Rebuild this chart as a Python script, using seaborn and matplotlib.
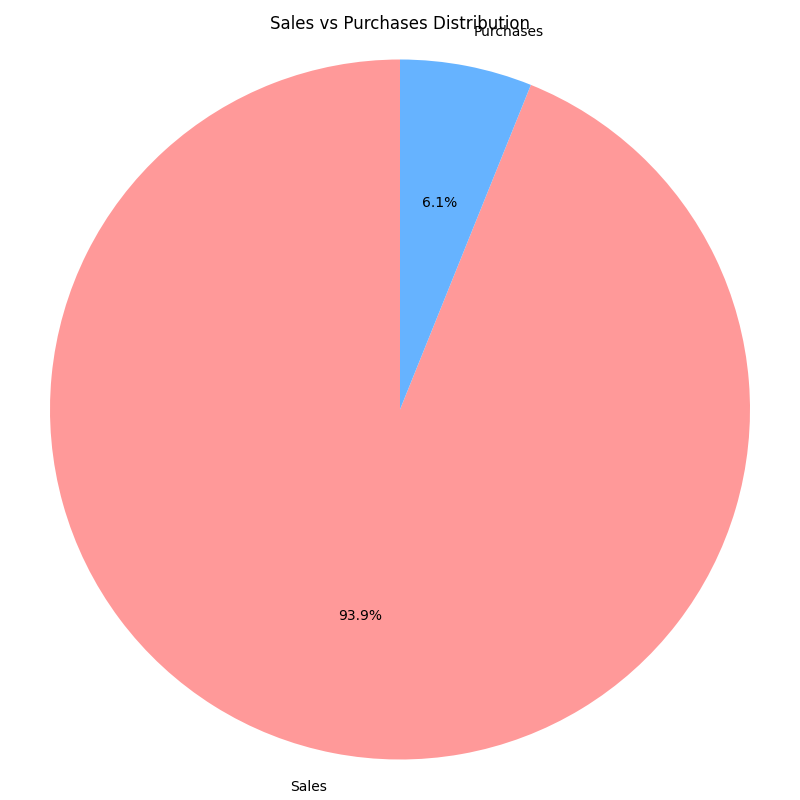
import matplotlib
matplotlib.use("Agg")
import matplotlib.pyplot as plt
import seaborn as sns

# ---- Data ---------------------------------------------------------------
labels = ["Sales", "Purchases"]
shares = [93.9, 6.1]
palette = sns.color_palette(["#ff9999", "#66b3ff"])

# ---- Chart --------------------------------------------------------------
fig, ax = plt.subplots(figsize=(8, 8), dpi=100)
ax.pie(shares, labels=labels, colors=palette, autopct="%1.1f%%", startangle=90)
ax.axis("equal")
ax.set_title("Sales vs Purchases Distribution")
plt.tight_layout()
plt.savefig("out.png", dpi=100)
plt.close()
